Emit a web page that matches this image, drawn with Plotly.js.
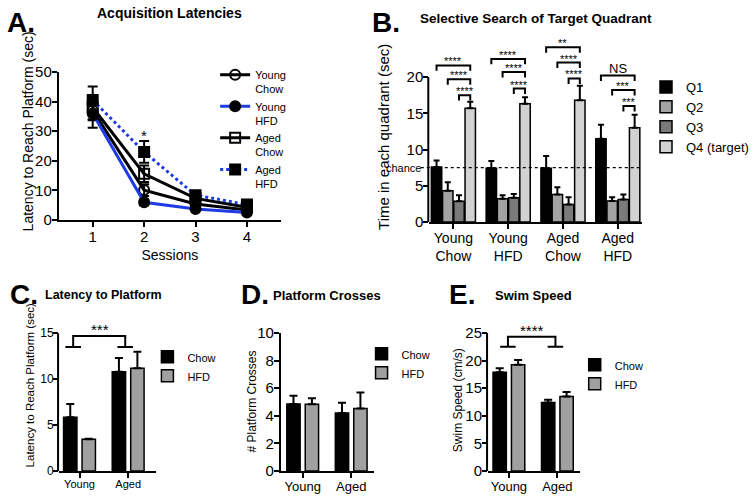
<!DOCTYPE html>
<html>
<head>
<meta charset="utf-8">
<script src="https://cdn.plot.ly/plotly-3.0.1.min.js"></script>
<style>html,body{margin:0;padding:0;background:#fff}#chart{width:754px;height:499px}</style>
</head>
<body>
<div id="chart"></div>
<script>
// ---------------- Panel A: Acquisition latencies ----------------
const sessions = [1, 2, 3, 4];
const seriesNamesA = ['Young<br>Chow', 'Young<br>HFD', 'Aged<br>Chow', 'Aged<br>HFD'];
const youngChowLat = [37.0, 10.1, 5.4, 3.4];
const youngChowErr = [3.3, 2.0, 0.8, 0.6];
const youngHfdLat = [36.0, 6.0, 3.7, 2.5];
const youngHfdErr = [4.8, 1.0, 0.5, 0.4];
const agedChowLat = [38.0, 15.6, 7.3, 4.3];
const agedChowErr = [4.0, 2.8, 1.0, 0.7];
const agedHfdLat = [40.5, 23.0, 8.4, 5.2];
const agedHfdErr = [4.6, 3.7, 1.2, 0.8];
const sigASession = 2;
const sigALevel = 28.7;
const sigAText = '*';

// ---------------- Panel B: Selective search ----------------
const groupsB = ['Young Chow', 'Young HFD', 'Aged Chow', 'Aged HFD'];
const quadrants = ['Q1', 'Q2', 'Q3', 'Q4 (target)'];
const q1Time = [7.6, 7.4, 7.4, 11.5];
const q1Err = [0.9, 1.0, 1.7, 1.9];
const q2Time = [4.3, 3.2, 3.8, 2.9];
const q2Err = [1.2, 0.5, 1.0, 0.5];
const q3Time = [2.85, 3.35, 2.4, 3.1];
const q3Err = [0.85, 0.5, 1.0, 0.7];
const q4Time = [15.7, 16.3, 16.8, 13.0];
const q4Err = [0.9, 0.9, 2.0, 1.8];
const chanceLevel = 7.5;
const chanceLabel = 'chance';
const sigBGroup = [0, 0, 0, 1, 1, 1, 2, 2, 2, 3, 3, 3];
const sigBFrom = [0, 1, 2, 0, 1, 2, 0, 1, 2, 0, 1, 2];
const sigBTo = [3, 3, 3, 3, 3, 3, 3, 3, 3, 3, 3, 3];
const sigBLevel = [21.6, 19.7, 17.5, 22.5, 20.7, 18.4, 24.1, 22.0, 19.8, 20.2, 18.2, 16.0];
const sigBLabel = ['****', '****', '****', '****', '****', '****', '**', '****', '****', 'NS', '***', '***'];

// ---------------- Panels C-E ----------------
const ageGroups = ['Young', 'Aged'];
const dietNames = ['Chow', 'HFD'];
const latChow = [5.85, 10.8];
const latChowErr = [1.45, 1.5];
const latHfd = [3.45, 11.2];
const latHfdErr = [0.05, 1.8];
const crossChow = [4.85, 4.2];
const crossChowErr = [0.6, 0.75];
const crossHfd = [4.83, 4.53];
const crossHfdErr = [0.45, 1.15];
const speedChow = [17.9, 12.4];
const speedChowErr = [0.7, 0.5];
const speedHfd = [19.25, 13.5];
const speedHfdErr = [0.85, 0.8];
const sigCLabel = '***';
const sigCTop = 14.7;
const sigCBottom = 13.5;
const sigELabel = '****';
const sigETop = 24.3;
const sigEBottom = 22.5;

// ---------------- styling / geometry ----------------
const W = 754, H = 499;
const px = v => v / W;
const py = v => 1 - v / H;
const FONT = '"Liberation Sans", Arial, Helvetica, sans-serif';
const BLACK = '#000000';
const BLUE = '#1e3ce6';
const quadColors = ['#000000', '#a3a3a3', '#7a7a7a', '#d2d2d2'];
const dietColors = ['#000000', '#a0a0a0'];
const qCenters = [-0.3075, -0.1025, 0.1025, 0.3075];
const qWidth = 0.19;
const dCenters = [-0.19, 0.19];
const dWidth = 0.275;

const traces = [];

// Panel A traces
const aSeries = [
  {y: youngChowLat, e: youngChowErr, line: BLACK, dash: 'solid', sym: 'circle-open'},
  {y: youngHfdLat, e: youngHfdErr, line: BLUE, dash: 'solid', sym: 'circle'},
  {y: agedChowLat, e: agedChowErr, line: BLACK, dash: 'solid', sym: 'square-open'},
  {y: agedHfdLat, e: agedHfdErr, line: BLUE, dash: 'dot', sym: 'square'}
];
aSeries.forEach((s, i) => {
  traces.push({
    type: 'scatter', mode: 'lines+markers', x: sessions, y: s.y, name: seriesNamesA[i],
    xaxis: 'x', yaxis: 'y', legend: 'legend', cliponaxis: false,
    line: {color: s.line, width: 3, dash: s.dash},
    marker: {symbol: s.sym, size: 10, color: BLACK, line: {color: BLACK, width: 2}},
    error_y: {type: 'data', array: s.e, visible: true, color: BLACK, thickness: 2, width: 5},
    hoverinfo: 'skip'
  });
});

// Panel B traces
const qVals = [q1Time, q2Time, q3Time, q4Time];
const qErrs = [q1Err, q2Err, q3Err, q4Err];
qVals.forEach((vals, q) => {
  traces.push({
    type: 'bar', x: groupsB, y: vals, name: quadrants[q], xaxis: 'x2', yaxis: 'y2', legend: 'legend2',
    width: qWidth, offset: qCenters[q] - qWidth / 2,
    marker: {color: quadColors[q], line: {color: BLACK, width: 1.5}},
    error_y: {type: 'data', symmetric: false, array: qErrs[q], arrayminus: vals.map(() => 0),
              visible: true, color: BLACK, thickness: 2, width: 3},
    hoverinfo: 'skip'
  });
});

// Panels C, D, E traces
function dietBars(chow, chowErr, hfd, hfdErr, xa, ya, lg) {
  [[chow, chowErr], [hfd, hfdErr]].forEach((pair, d) => {
    traces.push({
      type: 'bar', x: ageGroups, y: pair[0], name: dietNames[d], xaxis: xa, yaxis: ya, legend: lg,
      width: dWidth, offset: dCenters[d] - dWidth / 2,
      marker: {color: dietColors[d], line: {color: BLACK, width: 1.5}},
      error_y: {type: 'data', symmetric: false, array: pair[1], arrayminus: pair[0].map(() => 0),
                visible: true, color: BLACK, thickness: 2, width: 4},
      hoverinfo: 'skip'
    });
  });
}
dietBars(latChow, latChowErr, latHfd, latHfdErr, 'x3', 'y3', 'legend3');
dietBars(crossChow, crossChowErr, crossHfd, crossHfdErr, 'x4', 'y4', 'legend4');
dietBars(speedChow, speedChowErr, speedHfd, speedHfdErr, 'x5', 'y5', 'legend5');

// ---------------- axes ----------------
function axis(extra, tickSize) {
  return Object.assign({
    showline: true, linecolor: BLACK, linewidth: 2, mirror: false,
    ticks: 'outside', ticklen: 5, tickwidth: 2, tickcolor: BLACK,
    showgrid: false, zeroline: false, fixedrange: true, ticklabelstandoff: -3,
    tickfont: {family: FONT, size: tickSize, color: BLACK}
  }, extra);
}

const domA = {x: [px(59), px(282)], y: [py(220), py(72)]};
const domB = {x: [px(431), px(645)], y: [py(222), py(29.9)]};
const domC = {x: [px(59.3), px(157)], y: [py(471), py(319.5)]};
const domD = {x: [px(282), px(375)], y: [py(471), py(333)]};
const domE = {x: [px(490), px(582)], y: [py(471), py(319.2)]};

const layout = {
  width: W, height: H,
  margin: {l: 0, r: 0, t: 0, b: 0},
  paper_bgcolor: '#ffffff', plot_bgcolor: 'rgba(0,0,0,0)',
  font: {family: FONT, color: BLACK},
  showlegend: true,
  bargap: 0, bargroupgap: 0,
  xaxis: axis({domain: domA.x, anchor: 'y', range: [0.34, 4.66], tickvals: sessions,
               title: {text: 'Sessions', font: {family: FONT, size: 14, color: BLACK}, standoff: 6}}, 15),
  yaxis: axis({domain: domA.y, anchor: 'x', range: [0, 50], dtick: 10}, 15),
  xaxis2: axis({domain: domB.x, anchor: 'y2', type: 'category', range: [-0.44, 3.45],
                tickvals: groupsB, ticktext: groupsB.map(s => s.replace(' ', '<br>'))}, 14),
  yaxis2: axis({domain: domB.y, anchor: 'x2', range: [0, 26.5], tickvals: [0, 5, 10, 15, 20],
                showline: false}, 15),
  xaxis3: axis({domain: domC.x, anchor: 'y3', type: 'category', range: [-0.42, 1.58]}, 11),
  yaxis3: axis({domain: domC.y, anchor: 'x3', range: [0, 16.5], tickvals: [0, 5, 10, 15],
                showline: false}, 12),
  xaxis4: axis({domain: domD.x, anchor: 'y4', type: 'category', range: [-0.45, 1.46]}, 13),
  yaxis4: axis({domain: domD.y, anchor: 'x4', range: [0, 10], dtick: 2}, 15),
  xaxis5: axis({domain: domE.x, anchor: 'y5', type: 'category', range: [-0.43, 1.46]}, 13),
  yaxis5: axis({domain: domE.y, anchor: 'x5', range: [0, 27.5], tickvals: [0, 5, 10, 15, 20, 25],
                showline: false}, 15)
};

function legendAt(x, y, size) {
  return {x: x, y: y, xanchor: 'left', yanchor: 'top', bgcolor: 'rgba(0,0,0,0)', borderwidth: 0,
          valign: 'top', itemclick: false, itemdoubleclick: false,
          font: {family: FONT, size: size, color: BLACK}};
}
layout.legend = legendAt(px(216), py(61), 11);
layout.legend2 = legendAt(px(649), py(72), 13);
layout.legend3 = legendAt(px(148), py(343), 11);
layout.legend4 = legendAt(px(363), py(340), 11);
layout.legend5 = legendAt(px(577), py(351), 11);

// ---------------- shapes ----------------
const shapes = [];
// partial y-axis lines (axis ends at the last tick in the reference)
[['y2', domB, 20], ['y3', domC, 15], ['y5', domE, 25]].forEach(a => {
  shapes.push({type: 'line', xref: 'paper', yref: a[0], x0: a[1].x[0] - 1 / W, x1: a[1].x[0] - 1 / W,
               y0: 0, y1: a[2], line: {color: BLACK, width: 2}});
});
// chance line
shapes.push({type: 'line', xref: 'x2 domain', yref: 'y2', x0: -0.04, x1: 1, y0: chanceLevel, y1: chanceLevel,
             line: {color: BLACK, width: 1.3, dash: 'dot'}});
// brackets panel B
const legB = 0.75;
sigBLevel.forEach((h, k) => {
  const x1 = sigBGroup[k] + qCenters[sigBFrom[k]];
  const x2 = sigBGroup[k] + qCenters[sigBTo[k]];
  shapes.push({type: 'path', xref: 'x2', yref: 'y2', line: {color: BLACK, width: 2},
               path: `M ${x1},${h - legB} L ${x1},${h} L ${x2},${h} L ${x2},${h - legB}`});
});
// T-brackets panels C and E
function tBracket(xa, ya, xl, xr, top, bottom, half) {
  shapes.push({type: 'path', xref: xa, yref: ya, line: {color: BLACK, width: 2},
    path: `M ${xl},${bottom} L ${xl},${top} L ${xr},${top} L ${xr},${bottom} ` +
          `M ${xl - half},${bottom} L ${xl + half},${bottom} M ${xr - half},${bottom} L ${xr + half},${bottom}`});
}
tBracket('x3', 'y3', -0.13, 0.94, sigCTop, sigCBottom, 0.16);
tBracket('x5', 'y5', -0.02, 0.96, sigETop, sigEBottom, 0.16);
layout.shapes = shapes;

// ---------------- annotations ----------------
const ann = [];
function txt(text, x, y, size, bold, extra) {
  return Object.assign({text: bold ? '<b>' + text + '</b>' : text, x: x, y: y, xref: 'paper', yref: 'paper',
    showarrow: false, xanchor: 'left', yanchor: 'middle',
    font: {family: FONT, size: size, color: BLACK}}, extra || {});
}
// panel letters
ann.push(txt('A.', px(5), py(22), 28, true));
ann.push(txt('B.', px(371), py(22), 28, true));
ann.push(txt('C.', px(8), py(294), 28, true));
ann.push(txt('D.', px(240), py(294), 28, true));
ann.push(txt('E.', px(449), py(294), 28, true));
// panel titles
ann.push(txt('Acquisition Latencies', px(170.5), py(13), 14, true, {xanchor: 'center'}));
ann.push(txt('Selective Search of Target Quadrant', px(538), py(18), 13.5, true, {xanchor: 'center'}));
ann.push(txt('Latency to Platform', px(104), py(295), 12.5, true, {xanchor: 'center'}));
ann.push(txt('Platform Crosses', px(328.5), py(295), 13, true, {xanchor: 'center'}));
ann.push(txt('Swim Speed', px(536), py(295), 13, true, {xanchor: 'center'}));
// y-axis titles
const rot = {xanchor: 'center', textangle: -90};
ann.push(txt('Latency to Reach Platform (sec)', px(28), py(131.5), 14, false, rot));
ann.push(txt('Time in each quadrant (sec)', px(385), py(136.5), 15, false, rot));
ann.push(txt('Latency to Reach Platform (sec)', px(30.5), py(385), 11.5, false, rot));
ann.push(txt('# Platform Crosses', px(253.5), py(401), 12, false, rot));
ann.push(txt('Swim Speed (cm/s)', px(460), py(400), 12, false, rot));
// significance A
ann.push({text: sigAText, x: sigASession, y: sigALevel, xref: 'x', yref: 'y', showarrow: false,
          xanchor: 'center', yanchor: 'middle', font: {family: FONT, size: 15, color: BLACK}});
// chance label
ann.push({text: chanceLabel, x: px(425), y: chanceLevel, xref: 'paper', yref: 'y2', showarrow: false,
          xanchor: 'right', yanchor: 'middle', font: {family: FONT, size: 11, color: BLACK}});
// significance B
sigBLevel.forEach((h, k) => {
  const xm = sigBGroup[k] + (qCenters[sigBFrom[k]] + qCenters[sigBTo[k]]) / 2;
  const isNS = sigBLabel[k] === 'NS';
  ann.push({text: sigBLabel[k], x: xm, y: h, xref: 'x2', yref: 'y2', showarrow: false,
            xanchor: 'center', yanchor: 'bottom', yshift: isNS ? -2 : -4,
            font: {family: FONT, size: isNS ? 13 : 11, color: BLACK}});
});
// significance C, E
ann.push({text: sigCLabel, x: 0.43, y: sigCTop, xref: 'x3', yref: 'y3', showarrow: false,
          xanchor: 'center', yanchor: 'bottom', yshift: -4, font: {family: FONT, size: 15, color: BLACK}});
ann.push({text: sigELabel, x: 0.48, y: sigETop, xref: 'x5', yref: 'y5', showarrow: false,
          xanchor: 'center', yanchor: 'bottom', yshift: -4, font: {family: FONT, size: 15, color: BLACK}});
layout.annotations = ann;

Plotly.newPlot('chart', traces, layout, {staticPlot: true, displayModeBar: false});
</script>
</body>
</html>
